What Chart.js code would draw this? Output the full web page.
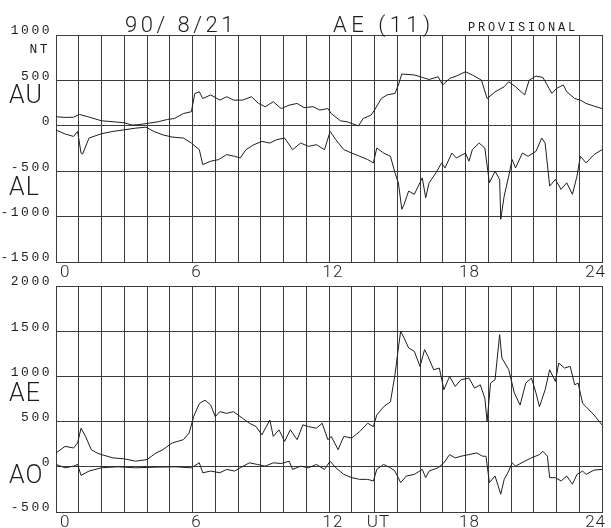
<!DOCTYPE html>
<html>
<head>
<meta charset="utf-8">
<script src="https://cdn.jsdelivr.net/npm/chart.js@4.4.1/dist/chart.umd.min.js"></script>
<style>
  html, body { margin: 0; padding: 0; background: #fff; }
  #wrap { position: relative; width: 611px; height: 528px; }
  canvas { position: absolute; left: 0; top: 0; }
</style>
</head>
<body>
<div id="wrap">
  <canvas id="topChart" width="611" height="528"></canvas>
  <canvas id="bottomChart" width="611" height="528"></canvas>
</div>
<script>
// hour ticks (UT) and labelled hours
const hourLabels = [0, 6, 12, 18, 24];

// AU / AL (nT), top panel
const auHours = [0,0.4,0.77,1.03,1.4,2,2.5,3,3.35,3.6,4,4.5,4.9,5.2,5.6,5.95,6.1,6.3,6.45,6.8,7.2,7.5,7.8,8.2,8.6,8.9,9.2,9.55,9.9,10.25,10.6,10.9,11.3,11.6,11.95,12.1,12.5,12.8,13.2,13.3,13.5,13.85,14,14.3,14.55,14.9,15.05,15.2,15.75,16.1,16.4,16.8,17,17.3,17.6,18,18.3,18.7,18.95,19.3,19.7,19.9,20.2,20.6,20.8,21.1,21.4,21.8,22,22.3,22.45,22.8,23.05,23.3,23.65,24];
const auValues = [100,92,95,125,100,55,45,33,8,12,25,45,70,80,135,155,355,375,300,340,283,320,283,283,320,246,210,265,190,228,246,200,210,173,190,135,55,44,7,0,80,118,173,300,340,357,450,570,560,533,510,540,450,522,548,595,560,503,300,375,430,485,430,340,503,548,533,357,412,450,375,300,283,246,217,190];

const alHours = [0,0.4,0.77,0.95,1.1,1.17,1.45,2,2.5,3,3.5,3.95,4.3,4.7,5.1,5.6,5.95,6.3,6.45,6.8,7.15,7.5,7.85,8.1,8.35,8.7,9.05,9.4,9.7,10.05,10.4,10.75,11.1,11.45,11.8,12.05,12.3,12.65,13,13.35,13.7,13.95,14.1,14.4,14.7,14.9,15.05,15.2,15.3,15.5,15.75,16.1,16.25,16.4,16.7,16.95,17.1,17.4,17.6,18,18.15,18.3,18.6,18.85,19.05,19.3,19.5,19.55,19.7,19.9,20.05,20.2,20.5,20.75,21.1,21.35,21.5,21.7,21.95,22.2,22.45,22.7,22.9,23.05,23.3,23.65,24];
const alValues = [-46,-90,-117,-62,-300,-311,-135,-87,-62,-44,-26,-15,-62,-100,-124,-135,-190,-263,-427,-390,-372,-317,-336,-354,-263,-208,-172,-190,-153,-135,-263,-190,-226,-208,-263,-62,-153,-263,-300,-336,-372,-409,-245,-300,-336,-518,-628,-920,-865,-719,-755,-573,-792,-628,-518,-409,-464,-300,-354,-300,-390,-263,-190,-245,-628,-500,-591,-1030,-774,-555,-372,-464,-300,-336,-281,-135,-190,-664,-591,-700,-628,-755,-555,-336,-409,-317,-263];

// AE / AO (nT), bottom panel
const aeHours = [0,0.4,0.77,0.95,1.1,1.3,1.55,1.8,2,2.5,3,3.5,4,4.4,4.7,5.1,5.6,5.85,6.05,6.3,6.55,6.8,7,7.2,7.5,7.8,8.2,8.5,8.8,9.05,9.4,9.55,9.8,10.05,10.3,10.6,10.85,11.1,11.45,11.7,11.95,12.1,12.4,12.65,13,13.35,13.7,13.95,14.1,14.4,14.7,14.9,15.05,15.15,15.3,15.5,15.75,16,16.2,16.35,16.6,16.85,17.05,17.3,17.55,17.8,18.15,18.4,18.65,18.85,18.95,19.1,19.3,19.5,19.6,19.9,20.15,20.4,20.65,20.9,21.1,21.25,21.5,21.7,21.95,22.1,22.35,22.6,22.8,22.95,23.15,23.3,23.65,24];
const aeValues = [153,226,208,263,427,336,190,153,135,99,88,62,80,153,190,263,300,372,555,700,737,683,555,610,591,610,537,482,445,354,518,336,409,281,409,300,464,445,427,482,300,336,190,336,318,390,482,445,573,664,719,1018,1315,1500,1425,1315,1277,1111,1296,1222,1074,1092,852,1000,889,963,982,870,907,760,500,926,963,1462,1203,1074,815,683,926,982,815,664,852,1074,944,1148,1092,1111,907,926,700,664,573,463];

const aoHours = [0,0.4,0.77,0.95,1.1,1.45,2,2.7,3.5,4.4,5.25,5.95,6.3,6.45,6.8,7.2,7.5,7.85,8.1,8.5,8.85,9.2,9.55,9.9,10.25,10.4,10.75,11.1,11.45,11.8,12.05,12.3,12.65,13,13.35,13.7,13.95,14.1,14.4,14.7,14.9,15.15,15.4,15.75,16.1,16.25,16.4,16.8,17.05,17.3,17.55,17.8,18.15,18.5,18.75,18.9,19.05,19.3,19.55,19.7,19.9,20.05,20.2,20.6,20.9,21.25,21.4,21.6,21.7,21.95,22.2,22.45,22.7,22.9,23.15,23.3,23.65,24];
const aoValues = [26,-11,7,26,-95,-47,-11,0,-11,-4,0,-11,44,-66,-47,-66,-29,-47,-11,44,26,7,44,36,62,-29,7,-11,26,-29,62,-11,-84,-120,-139,-139,-157,-29,26,-11,-47,-175,-102,-84,-29,-120,-47,-11,44,135,99,117,135,153,117,117,-175,-102,-303,-139,-47,44,7,62,99,135,172,117,-120,-120,-157,-102,-193,-84,-47,-84,-36,-29];

const INK = '#1e1e1e';
const GRID = '#3c3c3c';
const MONO = '"Liberation Mono", "DejaVu Sans Mono", monospace';
const THIN = 'Roboto, "Liberation Sans", sans-serif';

const pts = (hs, vs) => hs.map((h, i) => ({ x: h, y: vs[i] }));

const trace = (hs, vs) => ({
  data: pts(hs, vs),
  borderColor: INK,
  borderWidth: 1,
  pointRadius: 0,
  tension: 0,
  fill: false
});

// wide plotter-style spacing on tick labels
function spaceLabels(scale, px) {
  const orig = scale.drawLabels;
  scale.drawLabels = function (area) {
    this.ctx.save();
    this.ctx.letterSpacing = px;
    orig.call(this, area);
    this.ctx.restore();
  };
}

const panelText = {
  id: 'panelText',
  afterLayout(chart) {
    if (!chart.$spaced) {
      spaceLabels(chart.scales.y, '2.5px');
      spaceLabels(chart.scales.x, '1px');
      chart.$spaced = true;
    }
  },
  afterDraw(chart, args, opts) {
    const ctx = chart.ctx;
    ctx.save();
    ctx.fillStyle = INK;
    ctx.textBaseline = 'alphabetic';
    opts.items.forEach(t => {
      ctx.font = (t.weight || 'normal') + ' ' + t.size + 'px ' + (t.family || MONO);
      ctx.letterSpacing = t.sp + 'px';
      ctx.textAlign = t.align || 'left';
      ctx.fillText(t.text, t.x, t.y);
    });
    ctx.restore();
  }
};

function panelOptions(yMin, yMax, padTop, xHeight, padBottom, items, extraLabel) {
  return {
    responsive: false,
    animation: false,
    events: [],
    layout: { padding: { left: 0, right: 9, top: padTop, bottom: padBottom } },
    plugins: {
      legend: { display: false },
      tooltip: { enabled: false },
      panelText: { items: items }
    },
    scales: {
      x: {
        type: 'linear',
        min: 0,
        max: 24,
        afterFit: s => { s.height = xHeight; },
        grid: { color: GRID, lineWidth: 1, drawTicks: false },
        border: { color: GRID, width: 1 },
        ticks: {
          stepSize: 1,
          autoSkip: false,
          maxRotation: 0,
          align: 'inner',
          labelOffset: 4,
          padding: 1,
          color: INK,
          font: { family: THIN, size: 17, weight: '300' },
          callback: v => hourLabels.includes(v) ? String(v) : (v === extraLabel.at ? extraLabel.text : '')
        }
      },
      y: {
        min: yMin,
        max: yMax,
        afterFit: s => { s.width = 56; },
        grid: { color: GRID, lineWidth: 1, drawTicks: false },
        border: { color: GRID, width: 1 },
        ticks: {
          stepSize: 500,
          labelOffset: -4,
          padding: 4,
          color: INK,
          font: { family: MONO, size: 13 },
          callback: v => String(v)
        }
      }
    }
  };
}

new Chart(document.getElementById('topChart').getContext('2d'), {
  type: 'line',
  data: { datasets: [trace(auHours, auValues), trace(alHours, alValues)] },
  options: panelOptions(-1500, 1000, 35, 20, 528 - 262 - 20, [
    { text: '90/ 8/21', x: 125, y: 31.5, size: 22, sp: 3.5, family: THIN, weight: '300' },
    { text: 'AE (11)', x: 333, y: 31.5, size: 22, sp: 4.5, family: THIN, weight: '300' },
    { text: 'PROVISIONAL', x: 468, y: 31, size: 12, sp: 2.8 },
    { text: 'NT', x: 50, y: 53, size: 13, sp: 2.5, align: 'right' },
    { text: 'AU', x: 9, y: 102.5, size: 25, sp: 1, family: THIN, weight: '300' },
    { text: 'AL', x: 9, y: 195, size: 25, sp: 1, family: THIN, weight: '300' }
  ], { at: -1, text: '' }),
  plugins: [panelText]
});

new Chart(document.getElementById('bottomChart').getContext('2d'), {
  type: 'line',
  data: { datasets: [trace(aeHours, aeValues), trace(aoHours, aoValues)] },
  options: panelOptions(-500, 2000, 286, 16, 0, [
    { text: 'AE', x: 9, y: 401, size: 25, sp: 1, family: THIN, weight: '300' },
    { text: 'AO', x: 9, y: 483, size: 25, sp: 1, family: THIN, weight: '300' }
  ], { at: 14, text: 'UT' }),
  plugins: [panelText]
});
</script>
</body>
</html>
